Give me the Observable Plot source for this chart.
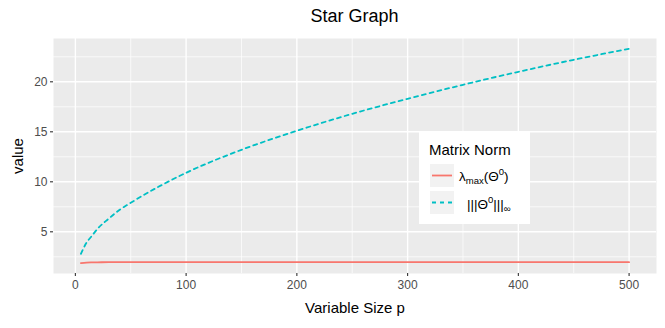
<!DOCTYPE html>
<html>
<head>
<meta charset="utf-8">
<script src="https://cdn.jsdelivr.net/npm/d3@7"></script>
<script src="https://cdn.jsdelivr.net/npm/@observablehq/plot@0.6"></script>
<style>
  body { margin: 0; background: #fff; font-family: "Liberation Sans", Arial, sans-serif; }
  #wrap { position: relative; width: 665px; height: 328px; overflow: hidden; }
  #title { position: absolute; left: 53px; width: 603px; top: 6px; text-align: center; font-size: 18px; color: #000; }
  #legend { position: absolute; left: 419px; top: 132px; width: 111px; height: 92px; background: #fff; }
  #legend .lt { position: absolute; left: 10px; top: 9px; font-size: 15px; color: #000; }
  #legend .key { position: absolute; left: 11px; width: 24px; height: 23px; background: #f2f2f2; }
  #legend .lab { position: absolute; font-size: 13.5px; color: #000; white-space: nowrap; }
  #legend sub { font-size: 9.5px; vertical-align: -3px; }
  #legend sup { font-size: 9.5px; vertical-align: 6px; }
  svg text { font-family: "Liberation Sans", Arial, sans-serif; }
</style>
</head>
<body>
<div id="wrap">
  <div id="chart"></div>
  <div id="title">Star Graph</div>
  <div id="legend"></div>
</div>
<script>
// Data
const pValues = [5, 10, 15, 20, 30, 40, 50, 75, 100, 150, 200, 250, 300, 350, 400, 450, 500];
const lambdaMax = [1.87, 1.92, 1.94, 1.95, 1.96, 1.96, 1.96, 1.96, 1.96, 1.96, 1.96, 1.96, 1.96, 1.96, 1.96, 1.96, 1.96];
const infNorm = [2.8, 3.9, 4.6, 5.3, 6.3, 7.2, 7.9, 9.5, 10.9, 13.2, 15.1, 16.8, 18.3, 19.7, 21.0, 22.2, 23.3];
const seriesNames = ["lambda", "inf"];
const seriesColors = ["#F8766D", "#00BFC4"];
const xTicks = [0, 100, 200, 300, 400, 500];
const xMinor = [50, 150, 250, 350, 450];
const yTicks = [5, 10, 15, 20];
const yMinor = [2.5, 7.5, 12.5, 17.5, 22.5];

const rows = [];
pValues.forEach((p, i) => {
  rows.push({p, value: lambdaMax[i], series: seriesNames[0]});
  rows.push({p, value: infNorm[i], series: seriesNames[1]});
});

const chart = Plot.plot({
  width: 665,
  height: 328,
  marginLeft: 53,
  marginRight: 9,
  marginTop: 38,
  marginBottom: 55,
  style: {background: "transparent", fontFamily: "Liberation Sans, Arial, sans-serif"},
  x: {domain: [-19.75, 524.75]},
  y: {domain: [0.83, 24.33]},
  marks: [
    Plot.frame({fill: "#ebebeb", stroke: null}),
    Plot.gridX(xMinor, {stroke: "#fff", strokeOpacity: 1, strokeWidth: 0.7}),
    Plot.gridY(yMinor, {stroke: "#fff", strokeOpacity: 1, strokeWidth: 0.7}),
    Plot.gridX(xTicks, {stroke: "#fff", strokeOpacity: 1, strokeWidth: 1.4}),
    Plot.gridY(yTicks, {stroke: "#fff", strokeOpacity: 1, strokeWidth: 1.4}),
    Plot.axisX({ticks: xTicks, tickSize: 3, tickPadding: 4, fontSize: 12, color: "#4d4d4d", stroke: "#333", strokeWidth: 1.1,
      label: "Variable Size p", labelAnchor: "center", labelArrow: "none", labelOffset: 39}),
    Plot.axisY({ticks: yTicks, tickSize: 3, tickPadding: 3, fontSize: 12, color: "#4d4d4d", stroke: "#333", strokeWidth: 1.1,
      label: "value", labelAnchor: "center", labelArrow: "none", labelOffset: 41}),
    Plot.line(rows.filter(d => d.series === seriesNames[0]), {x: "p", y: "value", stroke: seriesColors[0], strokeWidth: 1.8, curve: "monotone-x"}),
    Plot.line(rows.filter(d => d.series === seriesNames[1]), {x: "p", y: "value", stroke: seriesColors[1], strokeWidth: 1.8, strokeDasharray: "4,4", curve: "monotone-x"})
  ]
});
document.getElementById("chart").appendChild(chart);

// style axis labels like ggplot
chart.querySelectorAll("g[aria-label='x-axis label'] text, g[aria-label='y-axis label'] text").forEach(t => {
  t.setAttribute("fill", "#000");
  t.setAttribute("font-size", "15");
  t.style.fill = "#000";
});

const legend = document.getElementById("legend");
legend.innerHTML = `
  <div class="lt">Matrix Norm</div>
  <div class="key" style="top:32px"><svg width="24" height="23"><line x1="2" x2="22" y1="11.5" y2="11.5" stroke="${seriesColors[0]}" stroke-width="1.8"/></svg></div>
  <div class="key" style="top:59px"><svg width="24" height="23"><line x1="2" x2="22" y1="11.5" y2="11.5" stroke="${seriesColors[1]}" stroke-width="1.8" stroke-dasharray="4,4"/></svg></div>
  <div class="lab" style="left:40px; top:34px">λ<sub>max</sub>(Θ<sup>0</sup>)</div>
  <div class="lab" style="left:48px; top:62px">|||Θ<sup>0</sup>|||<sub>∞</sub></div>
`;
</script>
</body>
</html>
